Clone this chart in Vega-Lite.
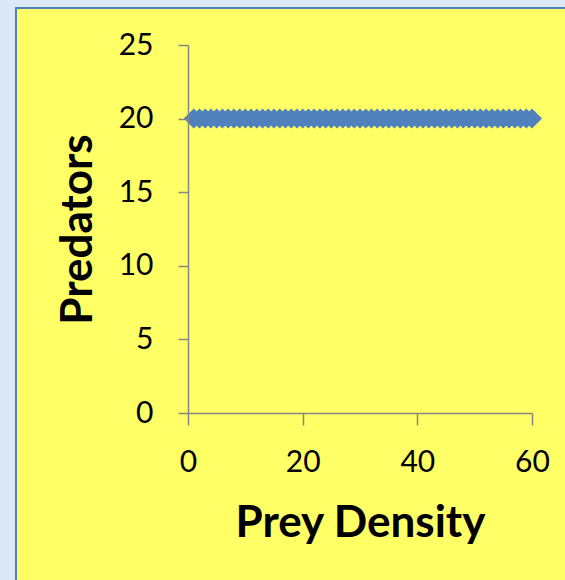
{
  "$schema": "https://vega.github.io/schema/vega-lite/v6.json",
  "width": 549,
  "height": 572,
  "autosize": {"type": "none"},
  "padding": {"left": 16, "top": 8, "right": 0, "bottom": 0},
  "background": "#dce8f5",
  "config": {
    "view": {"fill": "#ffff66", "stroke": "#4f81bd", "strokeWidth": 2, "strokeDash": [549, 1121, 574, 0]},
    "axis": {
      "grid": false,
      "labelFlush": false,
      "domainColor": "#868686",
      "domainWidth": 1.5,
      "tickColor": "#868686",
      "tickWidth": 1.5,
      "labelFont": "Lato",
      "labelFontSize": 30,
      "labelColor": "#000000",
      "titleFont": "Lato",
      "titleFontSize": 44,
      "titleFontWeight": "bold",
      "titleColor": "#000000"
    }
  },
  "data": {
    "values": [
      {"prey": 1, "predators": 20}, {"prey": 2, "predators": 20}, {"prey": 3, "predators": 20},
      {"prey": 4, "predators": 20}, {"prey": 5, "predators": 20}, {"prey": 6, "predators": 20},
      {"prey": 7, "predators": 20}, {"prey": 8, "predators": 20}, {"prey": 9, "predators": 20},
      {"prey": 10, "predators": 20}, {"prey": 11, "predators": 20}, {"prey": 12, "predators": 20},
      {"prey": 13, "predators": 20}, {"prey": 14, "predators": 20}, {"prey": 15, "predators": 20},
      {"prey": 16, "predators": 20}, {"prey": 17, "predators": 20}, {"prey": 18, "predators": 20},
      {"prey": 19, "predators": 20}, {"prey": 20, "predators": 20}, {"prey": 21, "predators": 20},
      {"prey": 22, "predators": 20}, {"prey": 23, "predators": 20}, {"prey": 24, "predators": 20},
      {"prey": 25, "predators": 20}, {"prey": 26, "predators": 20}, {"prey": 27, "predators": 20},
      {"prey": 28, "predators": 20}, {"prey": 29, "predators": 20}, {"prey": 30, "predators": 20},
      {"prey": 31, "predators": 20}, {"prey": 32, "predators": 20}, {"prey": 33, "predators": 20},
      {"prey": 34, "predators": 20}, {"prey": 35, "predators": 20}, {"prey": 36, "predators": 20},
      {"prey": 37, "predators": 20}, {"prey": 38, "predators": 20}, {"prey": 39, "predators": 20},
      {"prey": 40, "predators": 20}, {"prey": 41, "predators": 20}, {"prey": 42, "predators": 20},
      {"prey": 43, "predators": 20}, {"prey": 44, "predators": 20}, {"prey": 45, "predators": 20},
      {"prey": 46, "predators": 20}, {"prey": 47, "predators": 20}, {"prey": 48, "predators": 20},
      {"prey": 49, "predators": 20}, {"prey": 50, "predators": 20}, {"prey": 51, "predators": 20},
      {"prey": 52, "predators": 20}, {"prey": 53, "predators": 20}, {"prey": 54, "predators": 20},
      {"prey": 55, "predators": 20}, {"prey": 56, "predators": 20}, {"prey": 57, "predators": 20},
      {"prey": 58, "predators": 20}, {"prey": 59, "predators": 20}, {"prey": 60, "predators": 20}
    ]
  },
  "mark": {"type": "point", "shape": "diamond", "filled": true, "size": 400, "opacity": 1, "color": "#4f81bd"},
  "encoding": {
    "x": {
      "field": "prey",
      "type": "quantitative",
      "title": "Prey Density",
      "scale": {"domain": [0, 60], "range": [172, 516], "nice": false, "zero": true},
      "axis": {"values": [0, 20, 40, 60], "offset": -167, "tickSize": 12, "labelPadding": 22, "titlePadding": 24}
    },
    "y": {
      "field": "predators",
      "type": "quantitative",
      "title": "Predators",
      "scale": {"domain": [0, 25], "range": [405, 37], "nice": false},
      "axis": {"values": [0, 5, 10, 15, 20, 25], "offset": -172, "tickSize": 10, "labelPadding": 25, "titlePadding": 18, "zindex": 1}
    }
  }
}
